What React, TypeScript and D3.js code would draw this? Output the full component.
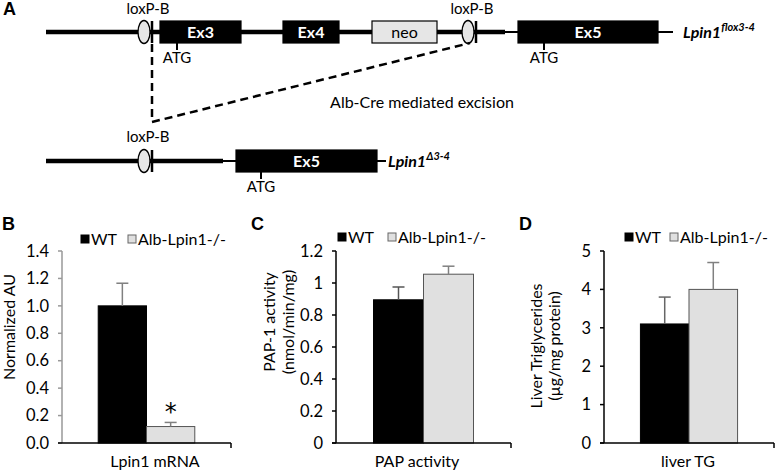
import React from "react";
import * as d3 from "d3";

// ---------- DATA ----------
const groups = ["WT", "Alb-Lpin1-/-"];

const mrnaCategory = ["Lpin1 mRNA"];
const mrnaValues = [1.0, 0.12];
const mrnaErrors = [0.165, 0.03];
const mrnaTicks = [0, 0.2, 0.4, 0.6, 0.8, 1.0, 1.2, 1.4];

const papCategory = ["PAP activity"];
const papValues = [0.895, 1.055];
const papErrors = [0.08, 0.05];
const papTicks = [0, 0.2, 0.4, 0.6, 0.8, 1, 1.2];

const tgCategory = ["liver TG"];
const tgValues = [3.1, 4.0];
const tgErrors = [0.7, 0.7];
const tgTicks = [0, 1, 2, 3, 4, 5];

// Gene construct features (diagram units)
const floxExons = [
  { name: "Ex3", start: 160, end: 241, kind: "exon" },
  { name: "Ex4", start: 283, end: 339, kind: "exon" },
  { name: "neo", start: 372, end: 437, kind: "neo" },
  { name: "Ex5", start: 518, end: 658, kind: "exon" },
];
const floxLoxP = [144, 468];
const floxATG = [177, 544];
const delExons = [{ name: "Ex5", start: 236, end: 377, kind: "exon" }];
const delLoxP = [144];
const delATG = [261];

const FONT = "Lato, 'Open Sans', sans-serif";
const BAR_FILLS = ["#000000", "#e0e0e0"];

type PanelProps = {
  letter: string;
  letterX: number;
  category: string[];
  values: number[];
  errors: number[];
  ticks: number[];
  fmt: (v: number) => string;
  x0: number;
  x1: number;
  yLabel: string[];
  yLabelX: number[];
  yLabelY: number;
  legendX: number[];
  legendY: number;
  xLabelX: number;
  yAxisColor: string;
  errColors: string[];
  star?: boolean;
};

function BarPanel(p: PanelProps) {
  const yTop = 251;
  const yBot = 443;
  const y = d3
    .scaleLinear()
    .domain([0, p.ticks[p.ticks.length - 1]])
    .range([yBot, yTop]);
  const xb = d3.scaleBand().domain(p.category).range([p.x0, p.x1]).paddingOuter(0.375).paddingInner(0);
  const xg = d3.scaleBand().domain(groups).range([0, xb.bandwidth()]);
  const cat = p.category[0];
  return (
    <g fontFamily={FONT}>
      <text x={p.letterX} y={230} fontSize={18} fontWeight={700} fontFamily="'Liberation Sans', Arial, sans-serif">
        {p.letter}
      </text>
      {/* legend */}
      {groups.map((g, i) => (
        <g key={g}>
          <rect
            x={p.legendX[i]}
            y={p.legendY - 4}
            width={8}
            height={8}
            fill={BAR_FILLS[i]}
            stroke={i === 0 ? "#000" : "#666"}
            strokeWidth={1}
          />
          <text x={p.legendX[i] + 10} y={p.legendY} dy="0.35em" fontSize={16}>
            {g}
          </text>
        </g>
      ))}
      {/* bars */}
      {groups.map((g, i) => {
        const bx = (xb(cat) as number) + (xg(g) as number);
        const bw = xg.bandwidth();
        const top = y(p.values[i]);
        const errTop = y(p.values[i] + p.errors[i]);
        const cx = bx + bw / 2;
        return (
          <g key={g}>
            <rect
              x={bx}
              y={top}
              width={bw}
              height={yBot - top}
              fill={BAR_FILLS[i]}
              stroke={i === 0 ? "#000" : "#555"}
              strokeWidth={1}
            />
            <line x1={cx} x2={cx} y1={top} y2={errTop} stroke={p.errColors[i]} strokeWidth={1.5} />
            <line x1={cx - 6} x2={cx + 6} y1={errTop} y2={errTop} stroke={p.errColors[i]} strokeWidth={1.5} />
            {p.star && i === 1 ? (
              <text x={cx} y={errTop - 2} textAnchor="middle" fontSize={24} fontFamily="'DejaVu Sans', sans-serif">
                *
              </text>
            ) : null}
          </g>
        );
      })}
      {/* y axis */}
      <line x1={p.x0} x2={p.x0} y1={yTop} y2={yBot} stroke={p.yAxisColor} strokeWidth={1.5} />
      {p.ticks.map((t) => (
        <g key={t}>
          <line x1={p.x0 - 4} x2={p.x0} y1={y(t)} y2={y(t)} stroke={p.yAxisColor} strokeWidth={1.5} />
          <text x={p.x0 - 13} y={y(t)} dy="0.35em" textAnchor="end" fontSize={16.5}>
            {p.fmt(t)}
          </text>
        </g>
      ))}
      {/* x axis */}
      <line x1={p.x0 - 4} x2={p.x1} y1={yBot} y2={yBot} stroke="#000" strokeWidth={1.5} />
      <line x1={p.x1} x2={p.x1} y1={yBot} y2={yBot + 5} stroke="#000" strokeWidth={1.5} />
      <text x={p.xLabelX} y={467} textAnchor="middle" fontSize={16}>
        {cat}
      </text>
      {/* y label */}
      {p.yLabel.map((l, i) => (
        <text
          key={l}
          transform={`translate(${p.yLabelX[i]},${p.yLabelY}) rotate(-90)`}
          textAnchor="middle"
          dy="0.35em"
          fontSize={16}
        >
          {l}
        </text>
      ))}
    </g>
  );
}

function Construct({
  y0,
  features,
  loxP,
  atg,
  lineStart,
  thickEnd,
  thinEnd,
  label,
  sup,
  loxLabelY,
}: {
  y0: number;
  features: { name: string; start: number; end: number; kind: string }[];
  loxP: number[];
  atg: number[];
  lineStart: number;
  thickEnd: number;
  thinEnd: number;
  label: number;
  sup: string;
  loxLabelY: number;
}) {
  const x = d3.scaleLinear().domain([0, 777]).range([0, 777]);
  const h = 22;
  return (
    <g fontFamily={FONT}>
      <line x1={x(lineStart)} x2={x(thickEnd)} y1={y0} y2={y0} stroke="#000" strokeWidth={4.5} />
      <line x1={x(thickEnd)} x2={x(thinEnd)} y1={y0} y2={y0} stroke="#000" strokeWidth={2} />
      {features.map((f) => (
        <g key={f.name + f.start}>
          <rect
            x={x(f.start)}
            y={y0 - h / 2}
            width={x(f.end) - x(f.start)}
            height={h}
            fill={f.kind === "neo" ? "#e6e6e6" : "#000"}
            stroke="#000"
            strokeWidth={1.2}
          />
          <text
            x={(x(f.start) + x(f.end)) / 2}
            y={y0}
            dy="0.36em"
            textAnchor="middle"
            fontSize={16}
            fontWeight={f.kind === "neo" ? 400 : 700}
            fill={f.kind === "neo" ? "#000" : "#fff"}
          >
            {f.name}
          </text>
        </g>
      ))}
      {loxP.map((lx) => (
        <g key={lx}>
          <ellipse cx={x(lx)} cy={y0} rx={6} ry={11.5} fill="#e6e6e6" stroke="#000" strokeWidth={1.3} />
          <line x1={x(lx) + 8} x2={x(lx) + 8} y1={y0 - 11} y2={y0 + 11} stroke="#000" strokeWidth={2.5} />
          <text x={x(lx) + 4} y={loxLabelY} textAnchor="middle" fontSize={15}>
            loxP-B
          </text>
        </g>
      ))}
      {atg.map((a) => (
        <g key={a}>
          <line x1={x(a)} x2={x(a)} y1={y0 + h / 2} y2={y0 + h / 2 + 7} stroke="#000" strokeWidth={2} />
          <text x={x(a)} y={y0 + 31} textAnchor="middle" fontSize={15}>
            ATG
          </text>
        </g>
      ))}
      <text x={x(label)} y={y0 + 6} fontSize={16} fontStyle="italic" fontWeight={700}>
        Lpin1
        <tspan fontSize={11} dy={-7} fontWeight={700}>
          {sup}
        </tspan>
      </text>
    </g>
  );
}

export default function App() {
  return (
    <svg
      width={777}
      height={472}
      viewBox="0 0 777 472"
      style={{ position: "absolute", left: 0, top: 0, background: "#fff" }}
    >
      <rect width={777} height={472} fill="#fff" />
      <text x={3} y={15} fontSize={18} fontWeight={700} fontFamily="'Liberation Sans', Arial, sans-serif">
        A
      </text>
      <Construct
        y0={32}
        features={floxExons}
        loxP={floxLoxP}
        atg={floxATG}
        lineStart={46}
        thickEnd={505}
        thinEnd={673}
        label={683}
        sup="flox3-4"
        loxLabelY={14}
      />
      {/* excision dashed lines */}
      <path
        d={d3.line()([
          [152, 44],
          [152, 122],
          [470, 43],
        ]) as string}
        fill="none"
        stroke="#000"
        strokeWidth={2.5}
        strokeDasharray="8,5"
      />
      <text x={422} y={108} textAnchor="middle" fontSize={16} fontFamily={FONT}>
        Alb-Cre mediated excision
      </text>
      <Construct
        y0={161}
        features={delExons}
        loxP={delLoxP}
        atg={delATG}
        lineStart={46}
        thickEnd={223}
        thinEnd={386}
        label={388}
        sup="Δ3-4"
        loxLabelY={142}
      />
      <BarPanel
        letter="B"
        letterX={2}
        category={mrnaCategory}
        values={mrnaValues}
        errors={mrnaErrors}
        ticks={mrnaTicks}
        fmt={d3.format(".1f")}
        x0={62}
        x1={231}
        yLabel={["Normalized AU"]}
        yLabelX={[9]}
        yLabelY={327}
        legendX={[81, 128]}
        legendY={239}
        xLabelX={155}
        yAxisColor="#999"
        errColors={["#808080", "#808080"]}
        star
      />
      <BarPanel
        letter="C"
        letterX={251}
        category={papCategory}
        values={papValues}
        errors={papErrors}
        ticks={papTicks}
        fmt={(v) => String(v)}
        x0={336}
        x1={511}
        yLabel={["PAP-1 activity", "(nmol/min/mg)"]}
        yLabelX={[269, 288]}
        yLabelY={322}
        legendX={[338, 388]}
        legendY={237}
        xLabelX={417}
        yAxisColor="#000"
        errColors={["#555", "#808080"]}
      />
      <BarPanel
        letter="D"
        letterX={519}
        category={tgCategory}
        values={tgValues}
        errors={tgErrors}
        ticks={tgTicks}
        fmt={(v) => String(v)}
        x0={604}
        x1={774}
        yLabel={["Liver Triglycerides", "(µg/mg protein)"]}
        yLabelX={[536, 554]}
        yLabelY={346}
        legendX={[625, 670]}
        legendY={237}
        xLabelX={688}
        yAxisColor="#000"
        errColors={["#666", "#808080"]}
      />
    </svg>
  );
}
